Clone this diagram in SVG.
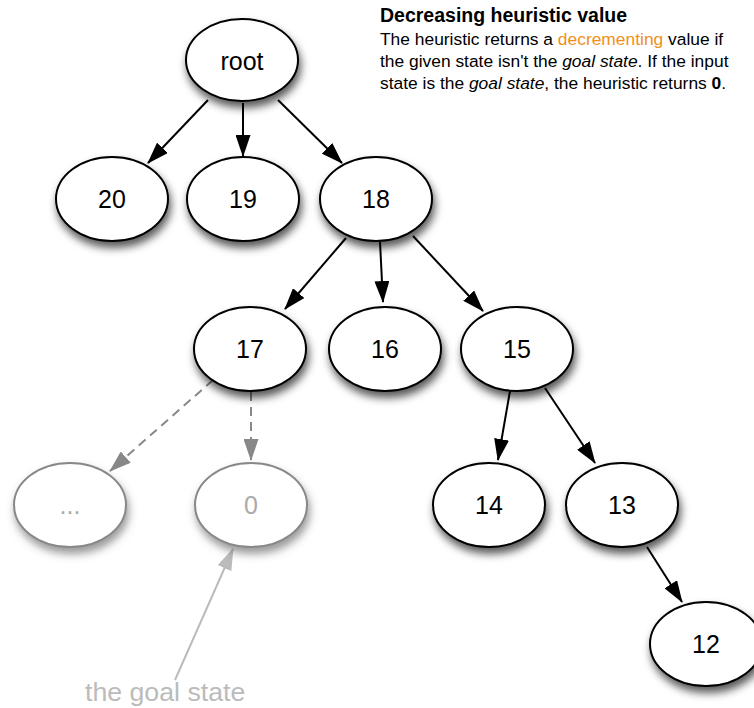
<svg xmlns="http://www.w3.org/2000/svg" width="754" height="708" viewBox="0 0 754 708">
<defs>
<filter id="sh" x="-30%" y="-30%" width="170%" height="180%">
<feDropShadow dx="2" dy="6" stdDeviation="4.5" flood-color="#000" flood-opacity="0.65"/>
</filter>
<filter id="shg" x="-30%" y="-30%" width="170%" height="180%">
<feDropShadow dx="2" dy="6" stdDeviation="4.5" flood-color="#555" flood-opacity="0.6"/>
</filter>
<marker id="ab" viewBox="0 0 22 15" markerWidth="22" markerHeight="15" refX="21" refY="7.5" orient="auto" markerUnits="userSpaceOnUse">
<path d="M0,0 L22,7.5 L0,15 z" fill="#000"/>
</marker>
<marker id="ag" viewBox="0 0 22 15" markerWidth="22" markerHeight="15" refX="21" refY="7.5" orient="auto" markerUnits="userSpaceOnUse">
<path d="M0,0 L22,7.5 L0,15 z" fill="#888"/>
</marker>
<marker id="al" viewBox="0 0 22 15" markerWidth="22" markerHeight="15" refX="21" refY="7.5" orient="auto" markerUnits="userSpaceOnUse">
<path d="M0,0 L22,7.5 L0,15 z" fill="#bbb"/>
</marker>
</defs>
<style>
text{font-family:"Liberation Sans",Arial,Helvetica,sans-serif}
.n ellipse{fill:#fff;stroke:#000;stroke-width:2;filter:url(#sh)}
.n text{font-size:25px;fill:#000;text-anchor:middle}
.g ellipse{fill:#fff;stroke:#888;stroke-width:2;filter:url(#shg)}
.g text{font-size:25px;fill:#aaa;text-anchor:middle}
.e{stroke:#000;stroke-width:2;fill:none;marker-end:url(#ab)}
.d{stroke:#888;stroke-width:2;fill:none;stroke-dasharray:9,6;marker-end:url(#ag)}
.l{stroke:#bbb;stroke-width:2;fill:none;marker-end:url(#al)}
.t{font-size:17.4px;fill:#000}
</style>
<g id="connectors">
<line class="e" x1="208" y1="100" x2="148" y2="163"/>
<line class="e" x1="243" y1="103" x2="243" y2="156"/>
<line class="e" x1="278" y1="100" x2="342" y2="163"/>
<line class="e" x1="346" y1="238" x2="285" y2="309"/>
<line class="e" x1="380" y1="242" x2="383" y2="302"/>
<line class="e" x1="413" y1="236" x2="483" y2="311"/>
<line class="e" x1="510" y1="391" x2="498" y2="460"/>
<line class="e" x1="545" y1="388" x2="595" y2="463"/>
<line class="e" x1="647" y1="547" x2="682" y2="602"/>
<line class="d" x1="213" y1="380" x2="110" y2="471"/>
<line class="d" x1="251" y1="392" x2="251" y2="460"/>
<line class="l" x1="175" y1="680" x2="233" y2="549"/>
</g>
<g id="root" class="n"><ellipse cx="242" cy="60" rx="56" ry="41"/><text x="242" y="70">root</text></g>
<g id="n20" class="n"><ellipse cx="112" cy="199" rx="56" ry="42"/><text x="112" y="208">20</text></g>
<g id="n19" class="n"><ellipse cx="243" cy="199" rx="56" ry="42"/><text x="243" y="208">19</text></g>
<g id="n18" class="n"><ellipse cx="376" cy="199" rx="56" ry="42"/><text x="376" y="208">18</text></g>
<g id="n17" class="n"><ellipse cx="250" cy="349" rx="56" ry="42"/><text x="250" y="358">17</text></g>
<g id="n16" class="n"><ellipse cx="385" cy="349" rx="56" ry="42"/><text x="385" y="358">16</text></g>
<g id="n15" class="n"><ellipse cx="517" cy="349" rx="56" ry="42"/><text x="517" y="358">15</text></g>
<g id="ndots" class="g"><ellipse cx="70" cy="505" rx="56" ry="42"/><text x="70" y="514">...</text></g>
<g id="n0" class="g"><ellipse cx="251" cy="505" rx="56" ry="42"/><text x="251" y="514">0</text></g>
<g id="n14" class="n"><ellipse cx="489" cy="505" rx="56" ry="42"/><text x="489" y="514">14</text></g>
<g id="n13" class="n"><ellipse cx="622" cy="505" rx="56" ry="42"/><text x="622" y="514">13</text></g>
<g id="n12" class="n"><ellipse cx="706" cy="644" rx="56" ry="42"/><text x="706" y="653">12</text></g>
<text x="85" y="701" style="font-size:26.7px;fill:#bbb">the goal state</text>
<g id="note">
<text x="380" y="22" style="font-size:19.5px;font-weight:bold;fill:#000">Decreasing heuristic value</text>
<text class="t" x="380" y="45">The heuristic returns a <tspan fill="#f0901a">decrementing</tspan> value if</text>
<text class="t" x="380" y="67">the given state isn't the <tspan font-style="italic">goal state</tspan>. If the input</text>
<text class="t" x="380" y="89">state is the <tspan font-style="italic">goal state</tspan>, the heuristic returns <tspan font-weight="bold">0</tspan>.</text>
</g>
</svg>
